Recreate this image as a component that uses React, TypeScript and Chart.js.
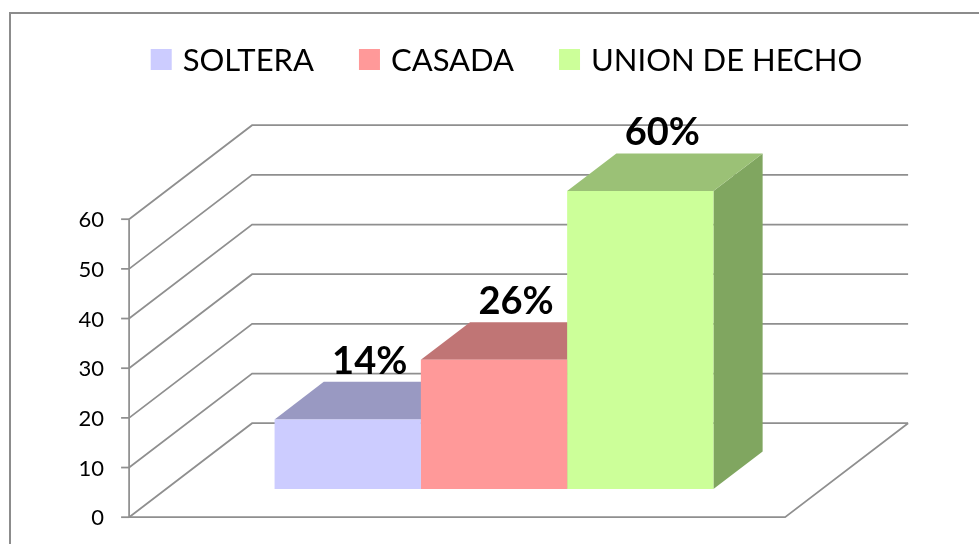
import React, { useEffect, useRef } from "react";
import { Chart, registerables } from "chart.js";

Chart.register(...registerables);

// ---- data ----
const categories = [""];
const seriesNames = ["SOLTERA", "CASADA", "UNION DE HECHO"];
const solteraValues = [14];
const casadaValues = [26];
const unionValues = [60];
const dataLabels = ["14%", "26%", "60%"];
const yTicks = [0, 10, 20, 30, 40, 50, 60];

// ---- styles ----
const frontColors = ["#CCCCFF", "#FF9999", "#CCFF99"];
const topColors = ["#9999C2", "#C07575", "#9BC176"];
const sideColors = ["#7F7FA3", "#A35F5F", "#80A660"];
const GRID = "#8f8f8f";
const FONT = "Lato, 'Open Sans', sans-serif";

// 3D projection (full depth vector of the floor)
const DEPTH_X = 123;
const DEPTH_Y = -94;
const FRONT_FRAC = 0.3; // bar front plane distance from floor front
const BAR_FRAC = 0.4; // bar depth

const threeD = {
  id: "threeD",
  beforeDatasetsDraw(chart: any) {
    const { ctx, chartArea } = chart;
    const y = chart.scales.y;
    const left = chartArea.left;
    const right = chartArea.right;
    const fx = -FRONT_FRAC * DEPTH_X;
    const fy = -FRONT_FRAC * DEPTH_Y;
    const bx = (1 - FRONT_FRAC) * DEPTH_X;
    const by = (1 - FRONT_FRAC) * DEPTH_Y;
    const base = y.getPixelForValue(0);
    const topV = y.getPixelForValue(yTicks[yTicks.length - 1]);

    ctx.save();
    ctx.strokeStyle = GRID;
    ctx.lineWidth = 1.75;
    ctx.lineJoin = "miter";
    // gridlines: left wall diagonal + back wall horizontal
    yTicks.forEach((v) => {
      const py = y.getPixelForValue(v);
      ctx.beginPath();
      ctx.moveTo(left + fx, py + fy);
      ctx.lineTo(left + bx, py + by);
      ctx.lineTo(right + bx, py + by);
      ctx.stroke();
    });
    // floor front & right edges
    ctx.beginPath();
    ctx.moveTo(left + fx, base + fy);
    ctx.lineTo(right + fx, base + fy);
    ctx.lineTo(right + bx, base + by);
    ctx.stroke();
    // vertical axis line
    ctx.beginPath();
    ctx.moveTo(left + fx, topV + fy);
    ctx.lineTo(left + fx, base + fy);
    ctx.stroke();
    // tick marks + labels
    ctx.fillStyle = "#000";
    ctx.font = `22px ${FONT}`;
    ctx.textAlign = "right";
    ctx.textBaseline = "middle";
    yTicks.forEach((v) => {
      const py = y.getPixelForValue(v) + fy;
      ctx.beginPath();
      ctx.moveTo(left + fx - 8, py);
      ctx.lineTo(left + fx, py);
      ctx.stroke();
      ctx.fillText(String(v), left + fx - 25, py + 1);
    });

    // bar sides and tops (fronts drawn by Chart.js afterwards)
    const dx = BAR_FRAC * DEPTH_X;
    const dy = BAR_FRAC * DEPTH_Y;
    chart.data.datasets.forEach((_ds: any, i: number) => {
      const meta = chart.getDatasetMeta(i);
      meta.data.forEach((el: any) => {
        const xl = el.x - el.width / 2;
        const xr = el.x + el.width / 2;
        const yt = el.y;
        const yb = el.base;
        ctx.fillStyle = sideColors[i];
        ctx.beginPath();
        ctx.moveTo(xr, yt);
        ctx.lineTo(xr + dx, yt + dy);
        ctx.lineTo(xr + dx, yb + dy);
        ctx.lineTo(xr, yb);
        ctx.closePath();
        ctx.fill();
        ctx.fillStyle = topColors[i];
        ctx.beginPath();
        ctx.moveTo(xl, yt);
        ctx.lineTo(xl + dx, yt + dy);
        ctx.lineTo(xr + dx, yt + dy);
        ctx.lineTo(xr, yt);
        ctx.closePath();
        ctx.fill();
      });
    });
    ctx.restore();
  },
  afterDatasetsDraw(chart: any) {
    const { ctx } = chart;
    const dy = BAR_FRAC * DEPTH_Y;
    ctx.save();
    ctx.fillStyle = "#000";
    ctx.font = `bold 38px ${FONT}`;
    ctx.textAlign = "center";
    ctx.textBaseline = "alphabetic";
    chart.data.datasets.forEach((_ds: any, i: number) => {
      const meta = chart.getDatasetMeta(i);
      meta.data.forEach((el: any) => {
        ctx.fillText(dataLabels[i], el.x + 22, el.y + dy - 8);
      });
    });
    ctx.restore();
  },
  afterDraw(chart: any) {
    const { ctx } = chart;
    ctx.save();
    // outer border
    ctx.strokeStyle = "#8c8c8c";
    ctx.lineWidth = 2;
    ctx.strokeRect(10, 13, 2000, 2000);
    // legend
    ctx.font = `31px ${FONT}`;
    ctx.textBaseline = "alphabetic";
    ctx.textAlign = "left";
    const box = 21;
    const gapBoxText = 11;
    const gapItems = 45;
    const widths = chart.data.datasets.map((ds: any) => ctx.measureText(ds.label).width);
    const total =
      widths.reduce((a: number, w: number) => a + w + box + gapBoxText, 0) +
      gapItems * (widths.length - 1);
    let x = 506.5 - total / 2;
    chart.data.datasets.forEach((ds: any, i: number) => {
      ctx.fillStyle = frontColors[i];
      ctx.fillRect(x, 49, box, box);
      ctx.fillStyle = "#000";
      ctx.fillText(ds.label, x + box + gapBoxText, 71);
      x += box + gapBoxText + widths[i] + gapItems;
    });
    ctx.restore();
  },
};

export default function App() {
  const ref = useRef<HTMLCanvasElement | null>(null);
  useEffect(() => {
    document.body.style.margin = "0";
    if (!ref.current) return;
    const chart = new Chart(ref.current, {
      type: "bar",
      data: {
        labels: categories,
        datasets: [
          { label: seriesNames[0], data: solteraValues, backgroundColor: frontColors[0], borderWidth: 0 },
          { label: seriesNames[1], data: casadaValues, backgroundColor: frontColors[1], borderWidth: 0 },
          { label: seriesNames[2], data: unionValues, backgroundColor: frontColors[2], borderWidth: 0 },
        ],
      },
      options: {
        animation: false,
        responsive: true,
        maintainAspectRatio: false,
        layout: { padding: { left: 166, right: 157, top: 191, bottom: 55 } },
        datasets: { bar: { categoryPercentage: 0.669, barPercentage: 1.0 } },
        scales: {
          x: { display: false },
          y: { display: false, min: 0, max: 60 },
        },
        plugins: { legend: { display: false }, tooltip: { enabled: false } },
      },
      plugins: [threeD],
    });
    return () => chart.destroy();
  }, []);
  return (
    <div style={{ position: "relative", width: 979, height: 544, background: "#fff" }}>
      <canvas ref={ref} />
    </div>
  );
}
